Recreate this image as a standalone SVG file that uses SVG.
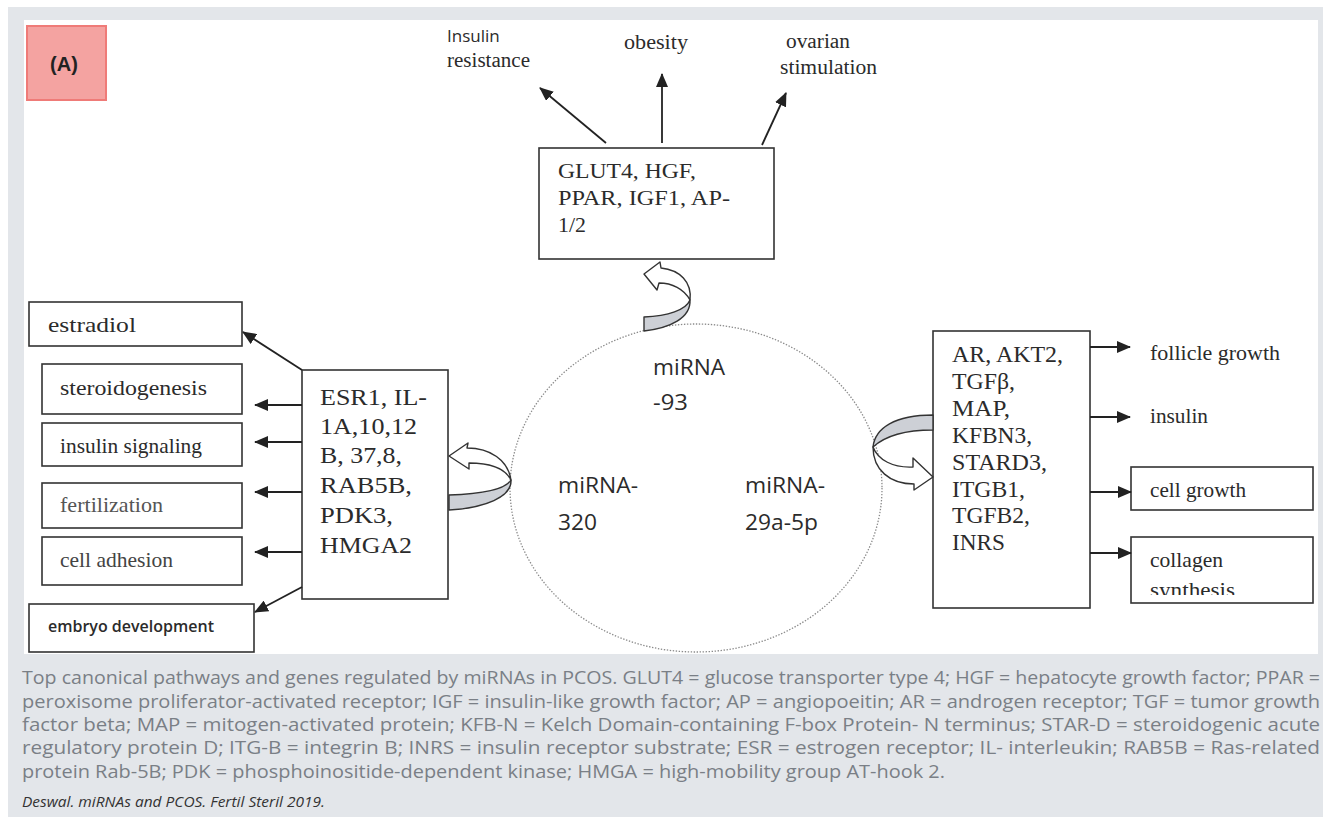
<svg xmlns="http://www.w3.org/2000/svg" width="1323" height="817" viewBox="0 0 1323 817">
<defs>
<marker id="ah" viewBox="0 0 14 12" refX="13" refY="6" markerWidth="14" markerHeight="12" markerUnits="userSpaceOnUse" orient="auto">
<path d="M0,0 L14,6 L0,12 Z" fill="#222"/>
</marker>
<clipPath id="clipSyn"><rect x="1131" y="537" width="182" height="58"/></clipPath>
<style>
.box{fill:#fff;stroke:#333;stroke-width:1.6}
.ser{font-family:"Liberation Serif","Times New Roman",serif;fill:#2b2b2b}
.sans{font-family:"Open Sans","Liberation Sans",sans-serif;fill:#2b2b2b}
.conn line{stroke:#222;stroke-width:1.8;fill:none}
.ribg{fill:#cdd0d6;stroke:#333;stroke-width:1.4;stroke-linejoin:round}
.ribw{fill:#fff;stroke:#333;stroke-width:1.4;stroke-linejoin:round}
.cap{font-family:"Open Sans","Liberation Sans",sans-serif;font-size:17.5px;fill:#7a7f86}
</style>
</defs>
<rect x="0" y="0" width="1323" height="817" fill="#fff"/>
<rect x="8" y="7" width="1315" height="810" fill="#e3e6ea"/>
<rect x="24" y="20" width="1294" height="634" fill="#fff"/>

<g id="labelA">
<rect x="27" y="26" width="79" height="74" fill="#f4a3a1" stroke="#ef7b78" stroke-width="2"/>
<text x="64" y="71" text-anchor="middle" font-family="Liberation Sans,Arial,sans-serif" font-weight="bold" font-size="20" fill="#222">(A)</text>
</g>

<g id="mirna-circle">
<ellipse cx="696" cy="488" rx="186" ry="164" fill="#fff" stroke="#8a8a8a" stroke-width="1.3" stroke-dasharray="1.4 1.6"/>
<text class="sans" font-size="22" x="653" y="375" textLength="72" lengthAdjust="spacingAndGlyphs">miRNA</text>
<text class="sans" font-size="22" x="653" y="410" textLength="35" lengthAdjust="spacingAndGlyphs">-93</text>
<text class="sans" font-size="22" x="558" y="493" textLength="80" lengthAdjust="spacingAndGlyphs">miRNA-</text>
<text class="sans" font-size="22" x="558" y="530" textLength="39" lengthAdjust="spacingAndGlyphs">320</text>
<text class="sans" font-size="22" x="745" y="493" textLength="80" lengthAdjust="spacingAndGlyphs">miRNA-</text>
<text class="sans" font-size="22" x="745" y="530" textLength="73" lengthAdjust="spacingAndGlyphs">29a-5p</text>
</g>

<g id="top-box">
<rect class="box" x="539" y="148" width="235" height="111"/>
<text class="ser" font-size="22" x="558" y="178" textLength="138" lengthAdjust="spacingAndGlyphs">GLUT4, HGF,</text>
<text class="ser" font-size="22" x="558" y="205" textLength="172" lengthAdjust="spacingAndGlyphs">PPAR, IGF1, AP-</text>
<text class="ser" font-size="22" x="558" y="232" textLength="28" lengthAdjust="spacingAndGlyphs">1/2</text>
</g>

<g id="top-outcomes">
<text class="sans" font-size="17" x="447" y="42">Insulin</text>
<text class="ser" font-size="20" x="447" y="67" textLength="83" lengthAdjust="spacingAndGlyphs">resistance</text>
<text class="ser" font-size="20" x="624" y="49" textLength="64" lengthAdjust="spacingAndGlyphs">obesity</text>
<text class="ser" font-size="20" x="786" y="48" textLength="64" lengthAdjust="spacingAndGlyphs">ovarian</text>
<text class="ser" font-size="20" x="780" y="74" textLength="97" lengthAdjust="spacingAndGlyphs">stimulation</text>
</g>

<g id="left-box">
<rect class="box" x="302" y="370" width="146" height="229"/>
<text class="ser" font-size="23" x="320" y="405" textLength="107" lengthAdjust="spacingAndGlyphs">ESR1, IL-</text>
<text class="ser" font-size="23" x="320" y="434" textLength="97" lengthAdjust="spacingAndGlyphs">1A,10,12</text>
<text class="ser" font-size="23" x="320" y="463" textLength="82" lengthAdjust="spacingAndGlyphs">B, 37,8,</text>
<text class="ser" font-size="23" x="320" y="493" textLength="92" lengthAdjust="spacingAndGlyphs">RAB5B,</text>
<text class="ser" font-size="23" x="320" y="523" textLength="73" lengthAdjust="spacingAndGlyphs">PDK3,</text>
<text class="ser" font-size="23" x="320" y="553" textLength="92" lengthAdjust="spacingAndGlyphs">HMGA2</text>
</g>

<g id="estradiol">
<rect class="box" x="29" y="302" width="213" height="44"/>
<text class="ser" font-size="22" x="48" y="332" textLength="88" lengthAdjust="spacingAndGlyphs">estradiol</text>
</g>
<g id="steroidogenesis">
<rect class="box" x="42" y="364" width="200" height="50"/>
<text class="ser" font-size="21" x="60" y="395" textLength="147" lengthAdjust="spacingAndGlyphs">steroidogenesis</text>
</g>
<g id="insulin-signaling">
<rect class="box" x="42" y="423" width="200" height="43"/>
<text class="ser" font-size="21" x="60" y="453" textLength="142" lengthAdjust="spacingAndGlyphs">insulin signaling</text>
</g>
<g id="fertilization">
<rect class="box" x="42" y="483" width="200" height="45"/>
<text class="ser" font-size="21" x="60" y="512" textLength="103" lengthAdjust="spacingAndGlyphs" style="fill:#555">fertilization</text>
</g>
<g id="cell-adhesion">
<rect class="box" x="42" y="537" width="200" height="48"/>
<text class="ser" font-size="21" x="60" y="567" textLength="113" lengthAdjust="spacingAndGlyphs" style="fill:#444">cell adhesion</text>
</g>
<g id="embryo-development">
<rect class="box" x="29" y="604" width="225" height="48"/>
<text class="sans" font-size="16" font-weight="600" x="48" y="632" textLength="166" lengthAdjust="spacingAndGlyphs">embryo development</text>
</g>

<g id="right-box">
<rect class="box" x="933" y="331" width="157" height="277"/>
<text class="ser" font-size="23" x="952" y="362" textLength="111" lengthAdjust="spacingAndGlyphs">AR, AKT2,</text>
<text class="ser" font-size="23" x="952" y="389" textLength="63" lengthAdjust="spacingAndGlyphs">TGFβ,</text>
<text class="ser" font-size="23" x="952" y="416" textLength="58" lengthAdjust="spacingAndGlyphs">MAP,</text>
<text class="ser" font-size="23" x="952" y="443" textLength="80" lengthAdjust="spacingAndGlyphs">KFBN3,</text>
<text class="ser" font-size="23" x="952" y="470" textLength="95" lengthAdjust="spacingAndGlyphs">STARD3,</text>
<text class="ser" font-size="23" x="952" y="497" textLength="73" lengthAdjust="spacingAndGlyphs">ITGB1,</text>
<text class="ser" font-size="23" x="952" y="523" textLength="78" lengthAdjust="spacingAndGlyphs">TGFB2,</text>
<text class="ser" font-size="23" x="952" y="550" textLength="53" lengthAdjust="spacingAndGlyphs">INRS</text>
</g>

<g id="right-outcomes">
<text class="ser" font-size="21" x="1150" y="360" textLength="130" lengthAdjust="spacingAndGlyphs">follicle growth</text>
<text class="ser" font-size="21" x="1150" y="423" textLength="58" lengthAdjust="spacingAndGlyphs">insulin</text>
</g>
<g id="cell-growth">
<rect class="box" x="1131" y="467" width="182" height="43"/>
<text class="ser" font-size="21" x="1150" y="497" textLength="96" lengthAdjust="spacingAndGlyphs">cell growth</text>
</g>
<g id="collagen-synthesis">
<rect class="box" x="1131" y="537" width="182" height="66"/>
<text class="ser" font-size="21" x="1150" y="567" textLength="73" lengthAdjust="spacingAndGlyphs">collagen</text>
<text class="ser" font-size="21" x="1150" y="597" textLength="85" lengthAdjust="spacingAndGlyphs" clip-path="url(#clipSyn)">synthesis</text>
</g>

<g id="connectors" class="conn">
<line x1="606" y1="143" x2="540" y2="88" marker-end="url(#ah)"/>
<line x1="662" y1="143" x2="662" y2="74" marker-end="url(#ah)"/>
<line x1="762" y1="145" x2="786" y2="93" marker-end="url(#ah)"/>
<line x1="302" y1="370" x2="243" y2="332" marker-end="url(#ah)"/>
<line x1="302" y1="405" x2="255" y2="405" marker-end="url(#ah)"/>
<line x1="302" y1="442" x2="255" y2="442" marker-end="url(#ah)"/>
<line x1="302" y1="492" x2="255" y2="492" marker-end="url(#ah)"/>
<line x1="302" y1="552" x2="255" y2="552" marker-end="url(#ah)"/>
<line x1="302" y1="587" x2="255" y2="612" marker-end="url(#ah)"/>
<line x1="1090" y1="347" x2="1130" y2="347" marker-end="url(#ah)"/>
<line x1="1090" y1="417" x2="1130" y2="417" marker-end="url(#ah)"/>
<line x1="1090" y1="492" x2="1131" y2="492" marker-end="url(#ah)"/>
<line x1="1090" y1="553" x2="1131" y2="553" marker-end="url(#ah)"/>
<path class="ribg" d="M644,317 C668,316 686,310 690,300 C691,318 670,328 644,331 Z"/>
<path class="ribw" d="M690,300 C692,282 680,270 661,268 L660,262 L644,274 L657,290 L659,283 C672,283 684,289 690,300 Z"/>
<path class="ribg" d="M449,495 C480,494 505,490 511,480 C512,497 485,508 449,510 Z"/>
<path class="ribw" d="M511,480 C508,460 490,448 467,448 L468,443 L449,456 L469,469 L469,463 C490,463 505,468 511,480 Z"/>
<path class="ribg" d="M933,415 C895,415 875,428 873,447 C885,436 905,430 933,430 Z"/>
<path class="ribw" d="M873,447 C873,470 890,484 914,484 L914,490 L933,477 L913,458 L913,467 C893,468 878,460 873,447 Z"/>
</g>

<g id="caption">
<text class="cap" x="22" y="684" textLength="1298" lengthAdjust="spacingAndGlyphs">Top canonical pathways and genes regulated by miRNAs in PCOS. GLUT4 = glucose transporter type 4; HGF = hepatocyte growth factor; PPAR =</text>
<text class="cap" x="22" y="708" textLength="1298" lengthAdjust="spacingAndGlyphs">peroxisome proliferator-activated receptor; IGF = insulin-like growth factor; AP = angiopoeitin; AR = androgen receptor; TGF = tumor growth</text>
<text class="cap" x="22" y="731" textLength="1298" lengthAdjust="spacingAndGlyphs">factor beta; MAP = mitogen-activated protein; KFB-N = Kelch Domain-containing F-box Protein- N terminus; STAR-D = steroidogenic acute</text>
<text class="cap" x="22" y="754" textLength="1298" lengthAdjust="spacingAndGlyphs">regulatory protein D; ITG-B = integrin B; INRS = insulin receptor substrate; ESR = estrogen receptor; IL- interleukin; RAB5B = Ras-related</text>
<text class="cap" x="22" y="778" textLength="923" lengthAdjust="spacingAndGlyphs">protein Rab-5B; PDK = phosphoinositide-dependent kinase; HMGA = high-mobility group AT-hook 2.</text>
<text x="22" y="807" font-family="Open Sans,Liberation Sans,sans-serif" font-style="italic" font-size="14" fill="#333" textLength="303" lengthAdjust="spacingAndGlyphs">Deswal. miRNAs and PCOS. Fertil Steril 2019.</text>
</g>
</svg>
